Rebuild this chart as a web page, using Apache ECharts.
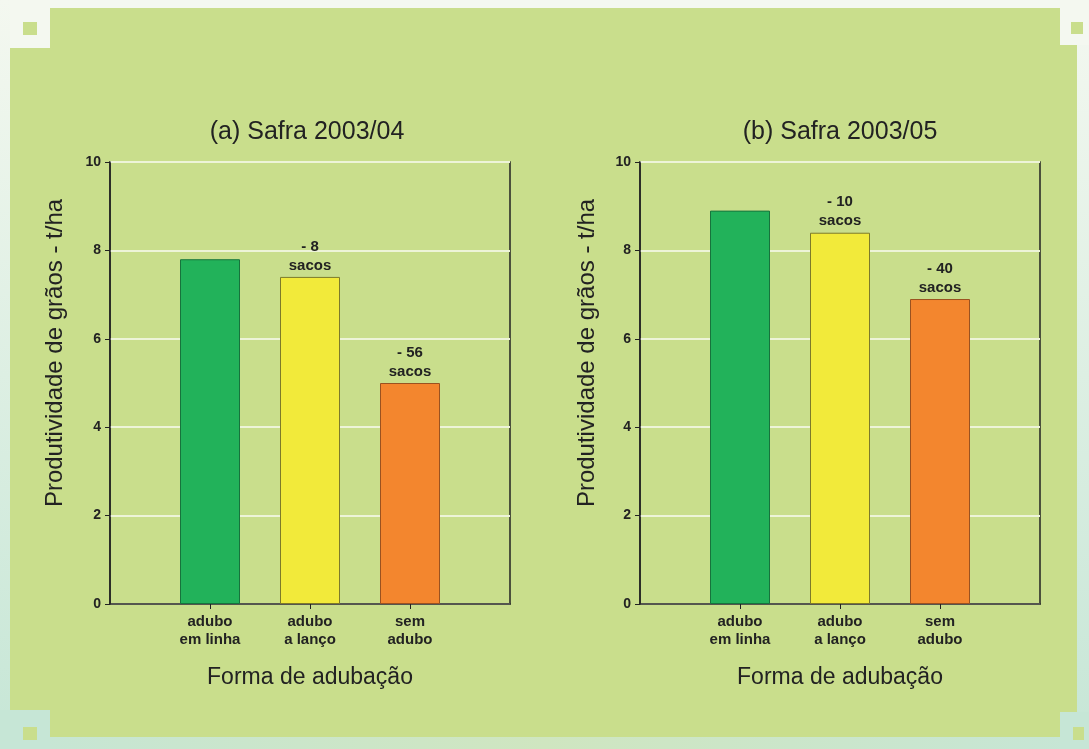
<!DOCTYPE html>
<html><head><meta charset="utf-8">
<script src="https://cdn.jsdelivr.net/npm/echarts@6/dist/echarts.min.js"></script>
<style>html,body{margin:0;padding:0;background:#f4f8f0}#c{width:1089px;height:749px}</style>
</head><body><div id="c"></div>
<script>
// Data
const categories = ['', 'adubo\nem linha', 'adubo\na lanço', 'sem\nadubo', ''];
const titleA = '(a) Safra 2003/04';
const titleB = '(b) Safra 2003/05';
const valuesA = [null, 7.8, 7.4, 5.0, null];
const valuesB = [null, 8.9, 8.4, 6.9, null];
const labelsA = ['', '', '- 8\nsacos', '- 56\nsacos', ''];
const labelsB = ['', '', '- 10\nsacos', '- 40\nsacos', ''];
const yTicks = [0, 2, 4, 6, 8, 10];
const yName = 'Produtividade de grãos - t/ha';
const xName = 'Forma de adubação';

const barColors = [null, '#22b25a', '#f2ea3a', '#f3862e', null];
const barBorders = [null, '#17733c', '#7d7a2a', '#9a5220', null];
const FONT = 'Liberation Sans, Arial, sans-serif';
const INK = '#222';

function buildData(vals, labels) {
  return vals.map((v, i) => v == null ? '-' : ({
    value: v,
    itemStyle: { color: barColors[i], borderColor: barBorders[i], borderWidth: 1 },
    label: { show: labels[i] !== '', formatter: labels[i] }
  }));
}

const chart = echarts.init(document.getElementById('c'));
const grids = [
  { left: 110, top: 162, width: 400, height: 442 },
  { left: 640, top: 162, width: 400, height: 442 }
];
function xAxis(i) {
  return {
    type: 'category', gridIndex: i, data: categories, boundaryGap: false,
    axisLine: { lineStyle: { color: INK, width: 1.5 } },
    axisTick: { length: 5, lineStyle: { color: INK }, interval: (idx) => idx > 0 && idx < 4 },
    axisLabel: { interval: 0, color: INK, fontWeight: 'bold', fontSize: 15, fontFamily: FONT, lineHeight: 18, margin: 9 },
    name: xName, nameLocation: 'middle', nameGap: 62,
    nameTextStyle: { color: INK, fontSize: 23, fontFamily: FONT },
    splitLine: { show: false }
  };
}
function yAxis(i) {
  return {
    type: 'value', gridIndex: i, min: 0, max: 10, interval: 2,
    axisLine: { show: true, lineStyle: { color: INK, width: 1.5 } },
    axisTick: { show: true, length: 5, inside: false, lineStyle: { color: INK } },
    axisLabel: { color: INK, fontWeight: 'bold', fontSize: 14, fontFamily: FONT, margin: 9,
      formatter: v => yTicks.includes(v) ? String(v) : '' },
    splitLine: { show: true, lineStyle: { color: '#edf4d8', width: 2 } }
  };
}
function series(i, vals, labels) {
  return {
    type: 'bar', xAxisIndex: i, yAxisIndex: i, barWidth: 60,
    data: buildData(vals, labels),
    label: { position: 'top', distance: 2, color: INK, fontWeight: 'bold', fontSize: 15, fontFamily: FONT, lineHeight: 19 },
    z: 3
  };
}
function yNameText(x) {
  return { type: 'text', x: x, y: 353, rotation: Math.PI / 2, z: 10,
    style: { text: yName, fill: INK, font: '24px ' + FONT, align: 'center', verticalAlign: 'middle' } };
}

chart.setOption({
  animation: false,
  backgroundColor: '#c9de8c',
  title: [
    { text: titleA, left: 302, top: 115, textAlign: 'center', textStyle: { color: INK, fontSize: 25, fontWeight: 'normal', fontFamily: FONT } },
    { text: titleB, left: 835, top: 115, textAlign: 'center', textStyle: { color: INK, fontSize: 25, fontWeight: 'normal', fontFamily: FONT } }
  ],
  grid: grids.map(g => Object.assign({ show: true, borderColor: INK, borderWidth: 1.5, backgroundColor: 'transparent' }, g)),
  xAxis: [xAxis(0), xAxis(1)],
  yAxis: [yAxis(0), yAxis(1)],
  series: [series(0, valuesA, labelsA), series(1, valuesB, labelsB)],
  graphic: [
    yNameText(55), yNameText(587),
    // frame margins
    { type: 'rect', shape: { x: 0, y: 0, width: 1089, height: 8 }, style: { fill: '#f4f8f0' }, z: -1 },
    { type: 'rect', shape: { x: 0, y: 0, width: 10, height: 749 }, style: { fill: new echarts.graphic.LinearGradient(0, 0, 0, 1, [{ offset: 0, color: '#f4f8f0' }, { offset: 1, color: '#c6e6d6' }]) }, z: -1 },
    { type: 'rect', shape: { x: 1077, y: 0, width: 12, height: 749 }, style: { fill: new echarts.graphic.LinearGradient(0, 0, 0, 1, [{ offset: 0, color: '#f4f8f0' }, { offset: 1, color: '#c6e6d6' }]) }, z: -1 },
    { type: 'rect', shape: { x: 0, y: 737, width: 1089, height: 12 }, style: { fill: new echarts.graphic.LinearGradient(0, 0, 1, 0, [{ offset: 0, color: '#c6e6d6' }, { offset: 0.5, color: '#cfe6c0' }, { offset: 1, color: '#c6e6d6' }]) }, z: -1 },
    // corner notches
    { type: 'rect', shape: { x: 10, y: 8, width: 40, height: 40 }, style: { fill: '#f4f8f0' }, z: -1 },
    { type: 'rect', shape: { x: 23, y: 22, width: 14, height: 13 }, style: { fill: '#c9de8c' }, z: -1 },
    { type: 'rect', shape: { x: 1060, y: 0, width: 29, height: 45 }, style: { fill: '#f4f8f0' }, z: -1 },
    { type: 'rect', shape: { x: 1071, y: 22, width: 12, height: 12 }, style: { fill: '#c9de8c' }, z: -1 },
    { type: 'rect', shape: { x: 0, y: 710, width: 50, height: 39 }, style: { fill: '#c6e6d6' }, z: -1 },
    { type: 'rect', shape: { x: 23, y: 727, width: 14, height: 13 }, style: { fill: '#c9de8c' }, z: -1 },
    { type: 'rect', shape: { x: 1060, y: 712, width: 29, height: 37 }, style: { fill: '#c6e6d6' }, z: -1 },
    { type: 'rect', shape: { x: 1073, y: 727, width: 11, height: 13 }, style: { fill: '#c9de8c' }, z: -1 }
  ]
});
</script></body></html>
